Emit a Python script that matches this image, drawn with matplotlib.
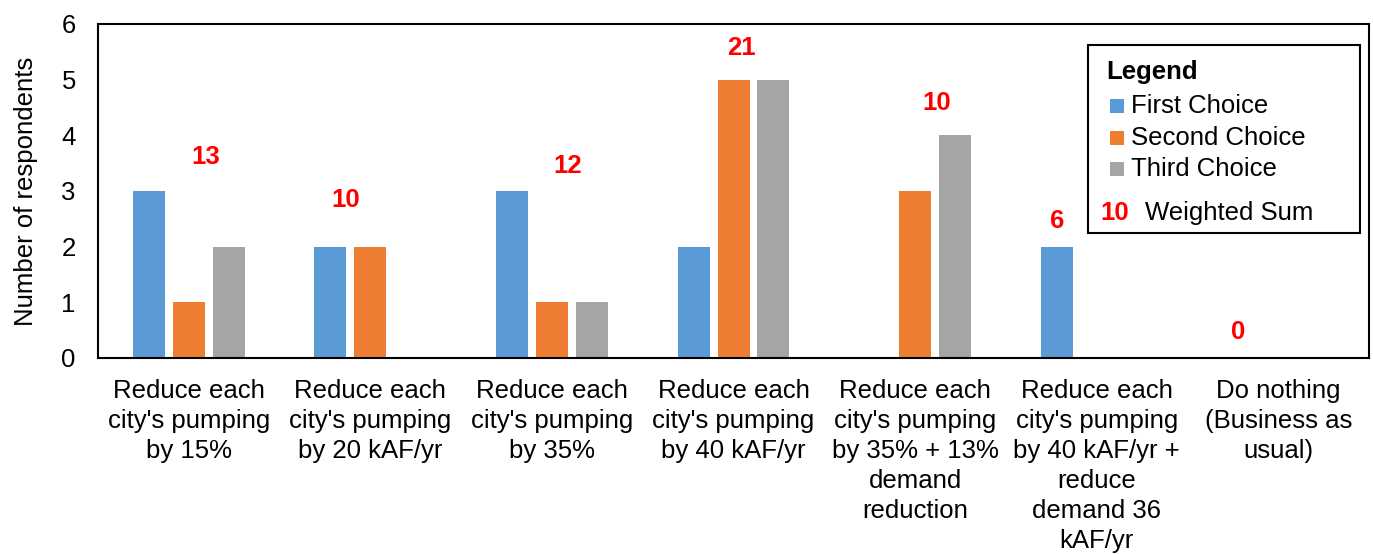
import matplotlib.pyplot as plt
import matplotlib.patches as patches
import numpy as np

plt.rcParams['font.family'] = ['Liberation Sans', 'DejaVu Sans']

# Data
categories = [
    "Reduce each\ncity's pumping\nby 15%",
    "Reduce each\ncity's pumping\nby 20 kAF/yr",
    "Reduce each\ncity's pumping\nby 35%",
    "Reduce each\ncity's pumping\nby 40 kAF/yr",
    "Reduce each\ncity's pumping\nby 35% + 13%\ndemand\nreduction",
    "Reduce each\ncity's pumping\nby 40 kAF/yr +\nreduce\ndemand 36\nkAF/yr",
    "Do nothing\n(Business as\nusual)",
]
first_choice = [3, 2, 3, 2, 0, 2, 0]
second_choice = [1, 2, 1, 5, 3, 0, 0]
third_choice = [2, 0, 1, 5, 4, 0, 0]
weighted_sum = [13, 10, 12, 21, 10, 6, 0]
series_names = ["First Choice", "Second Choice", "Third Choice"]

# where the red sums sit (x offset from group centre, y in data units)
sum_dx = [0.095, -0.134, 0.089, 0.041, 0.121, -0.218, -0.221]
sum_y = [3.61, 2.84, 3.45, 5.57, 4.58, 2.46, 0.47]

colors = ['#5B9BD5', '#ED7D31', '#A5A5A5']
fs = 18.5

fig = plt.figure(figsize=(13.73, 5.54), dpi=100)
ax = fig.add_axes([0.0714, 0.3538, 0.9257, 0.6029])

x = np.arange(len(categories))
width = 0.176
step = 0.22
for i, vals in enumerate([first_choice, second_choice, third_choice]):
    ax.bar(x + (i - 1) * step, vals, width, color=colors[i], linewidth=0,
           label=series_names[i])

for xi, dx, yi, s in zip(x, sum_dx, sum_y, weighted_sum):
    ax.text(xi + dx, yi, str(s), color='red', fontweight='bold', fontsize=fs,
            ha='center', va='center')

ax.set_xlim(-0.5, len(categories) - 0.5)
ax.set_ylim(0, 6)
ax.set_yticks(range(7))
ax.set_xticks(x)
ax.set_xticklabels(categories, fontsize=fs, linespacing=1.32)
ax.tick_params(axis='x', length=0, pad=15)
ax.tick_params(axis='y', length=0, pad=16, labelsize=fs)
ax.set_ylabel("Number of respondents", fontsize=fs, labelpad=17)
for sp in ax.spines.values():
    sp.set_linewidth(1.5)
    sp.set_color('black')

# Legend box drawn by hand
tr = ax.transAxes
ax.add_patch(patches.Rectangle((0.779, 0.374), 0.214, 0.563, transform=tr,
                               facecolor='white', edgecolor='black',
                               linewidth=1.5, zorder=5))
ax.text(0.7931, 0.856, "Legend", transform=tr, fontsize=fs, fontweight='bold',
        ha='left', va='center', zorder=6)
for c, name, yc in zip(colors, series_names, [0.7545, 0.6587, 0.5659]):
    ax.add_patch(patches.Rectangle((0.7962, yc - 0.021), 0.011, 0.042,
                                   transform=tr, facecolor=c, linewidth=0,
                                   zorder=6))
    ax.text(0.8127, yc, name, transform=tr, fontsize=fs, ha='left',
            va='center', zorder=6)
ax.text(0.7888, 0.434, "10", transform=tr, fontsize=fs, fontweight='bold',
        color='red', ha='left', va='center', zorder=6)
ax.text(0.8238, 0.434, "Weighted Sum", transform=tr, fontsize=fs, ha='left',
        va='center', zorder=6)

plt.savefig('out.png', dpi=100)
